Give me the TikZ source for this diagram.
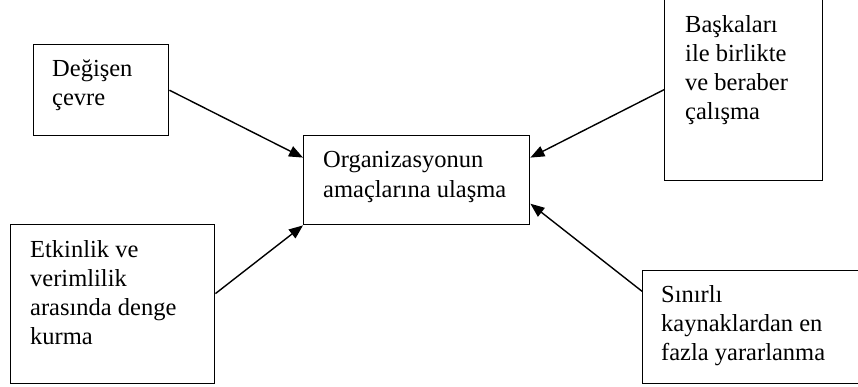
\documentclass[tikz,border=0pt]{standalone}
\usepackage{fontspec}
\setmainfont{Liberation Serif}
\usetikzlibrary{arrows.meta,calc}
\begin{document}
\begin{tikzpicture}[x=1pt,y=-1pt,
  box/.style={draw=black,line width=1.4pt,inner sep=0pt,anchor=north west},
  txt/.style={anchor=base west,inner sep=0pt,align=left,font=\fontsize{24.5}{29}\selectfont},
  conn/.style={line width=1.4pt,-{Triangle[length=14pt,width=11pt]}}]
\useasboundingbox (0,0) rectangle (858,387);
\clip (0,0) rectangle (858,387);
\fill[white] (0,0) rectangle (858,387);
% boxes
\node[box,minimum width=135pt,minimum height=91pt] (A) at (33,44) {};
\node[box,minimum width=158pt,minimum height=182pt] (B) at (664,-2) {};
\node[box,minimum width=226pt,minimum height=89pt] (M) at (303,135) {};
\node[box,minimum width=204pt,minimum height=159pt] (C) at (10,224) {};
\node[box,minimum width=230pt,minimum height=113pt] (D) at (642,270) {};
% texts (anchored at the baseline of the last line)
\node[txt] (At) at (52,106) {Değişen\\çevre};
\node[txt] (Bt) at (685,120) {Başkaları\\ile birlikte\\ve beraber\\çalışma};
\node[txt] (Mt) at (323,197) {Organizasyonun\\amaçlarına ulaşma};
\node[txt] (Ct) at (30,344) {Etkinlik ve\\verimlilik\\arasında denge\\kurma};
\node[txt] (Dt) at (661,360) {Sınırlı\\kaynaklardan en\\fazla yararlanma};
% connectors
\draw[conn] (A.east) -- ($(M.north west)!0.25!(M.south west)$);
\draw[conn] ($(B.north west)!0.5!(B.south west)$) -- ($(M.north east)!0.25!(M.south east)$);
\draw[conn] ($(C.north east)!0.434!(C.south east)$) -- (M.south west);
\draw[conn] ($(D.north west)!0.186!(D.south west)$) -- ($(M.north east)!0.76!(M.south east)$);
\end{tikzpicture}
\end{document}
